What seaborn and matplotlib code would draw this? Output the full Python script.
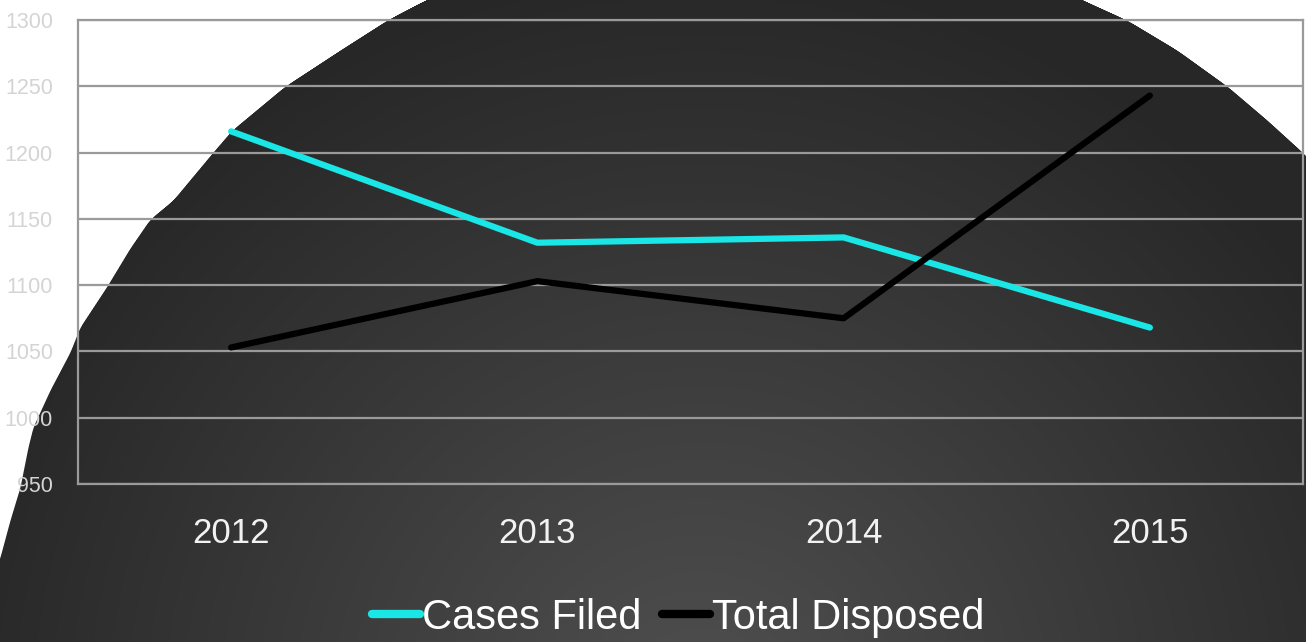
import numpy as np
import pandas as pd
import matplotlib
matplotlib.use("Agg")
import matplotlib.pyplot as plt
import seaborn as sns

# ---- data ----
years = ["2012", "2013", "2014", "2015"]
cases_filed = [1216, 1132, 1136, 1068]
total_disposed = [1053, 1103, 1075, 1243]
series_names = ["Cases Filed", "Total Disposed"]
y_ticks = [950, 1000, 1050, 1100, 1150, 1200, 1250, 1300]

df = pd.DataFrame({
    "year": years * 2,
    "value": cases_filed + total_disposed,
    "series": [series_names[0]] * 4 + [series_names[1]] * 4,
})

W, H = 1306, 642
sns.set_theme(style="white")
plt.rcParams["font.family"] = ["Liberation Sans", "DejaVu Sans"]

fig = plt.figure(figsize=(W / 100, H / 100), dpi=100)
fig.patch.set_facecolor("white")

# ---- decorative background: dark radial-gradient blob ----
left_edge_y = np.array([-60, 0, 13, 20, 50, 86, 130, 152, 200, 219, 248, 286, 327,
                        352, 390, 427, 447, 487, 520, 557, 700])
left_edge_x = np.array([560, 425, 400, 387, 340, 285, 232, 213, 173, 150, 130, 107, 80,
                        70, 50, 33, 28, 20, 10, 0, -50])
right_edge_y = np.array([-60, 0, 20, 50, 86, 120, 150, 250, 700])
right_edge_x = np.array([960, 1083, 1127, 1177, 1227, 1267, 1300, 1400, 1500])
rows = np.arange(-60, H + 60)
xl_full = np.interp(rows, left_edge_y, left_edge_x)
xr_full = np.interp(rows, right_edge_y, right_edge_x)
kern = np.ones(11) / 11
xl = np.convolve(xl_full, kern, mode="same")[60:60 + H][:, None]
xr = np.convolve(xr_full, kern, mode="same")[60:60 + H][:, None]
px, py = np.meshgrid(np.arange(W), np.arange(H))
inside = np.clip(np.minimum(px - xl, xr - px) + 0.5, 0, 1)
r = np.sqrt((px - 700) ** 2 + (py - 720) ** 2)
t = np.clip(r / 760, 0, 1)
shade = (0x50 - (0x50 - 0x27) * t) / 255.0
img = np.ones((H, W, 3))
for k in range(3):
    img[..., k] = inside * shade + (1 - inside) * 1.0
bg = fig.add_axes([0, 0, 1, 1], zorder=0)
bg.imshow(img, extent=[0, W, H, 0], aspect="auto", interpolation="bilinear")
bg.set_axis_off()

# ---- main plot ----
ax = fig.add_axes([78 / W, (H - 484) / H, 1225 / W, 464 / H], zorder=1)
ax.set_facecolor("none")
sns.lineplot(data=df, x="year", y="value", hue="series", sort=False,
             palette={series_names[0]: "#1ae6e6", series_names[1]: "#000000"},
             linewidth=4.5, ax=ax, legend=True)
for ln in ax.get_lines():
    ln.set_solid_capstyle("round")
    ln.set_solid_joinstyle("round")

ax.set_xlim(-0.5, 3.5)
ax.set_ylim(950, 1300)
ax.set_yticks(y_ticks)
ax.set_yticklabels([str(v) for v in y_ticks], fontsize=15.5, color="#d4d4d4")
ax.set_xticks(range(len(years)))
ax.set_xticklabels(years, fontsize=25, color="#f2f2f2")
ax.tick_params(axis="y", length=0, pad=18)
ax.tick_params(axis="x", length=0, pad=24)
ax.set_xlabel("")
ax.set_ylabel("")
ax.grid(axis="y", color="#9a9a9a", linewidth=1.6)
ax.grid(axis="x", visible=False)
ax.set_axisbelow(True)
for s in ax.spines.values():
    s.set_visible(True)
    s.set_color("#9a9a9a")
    s.set_linewidth(1.6)

handles, labels = ax.get_legend_handles_labels()
ax.get_legend().remove()
leg = fig.legend(handles, labels, loc="center", bbox_to_anchor=(678 / W, 1 - 618 / H),
                 ncol=2, frameon=False, fontsize=30, handlelength=1.15,
                 handletextpad=0.05, columnspacing=0.5)
for txt in leg.get_texts():
    txt.set_color("white")
for lh in leg.get_lines():
    lh.set_linewidth(6)
    lh.set_solid_capstyle("round")

fig.savefig("out.png", dpi=100, facecolor="white")
